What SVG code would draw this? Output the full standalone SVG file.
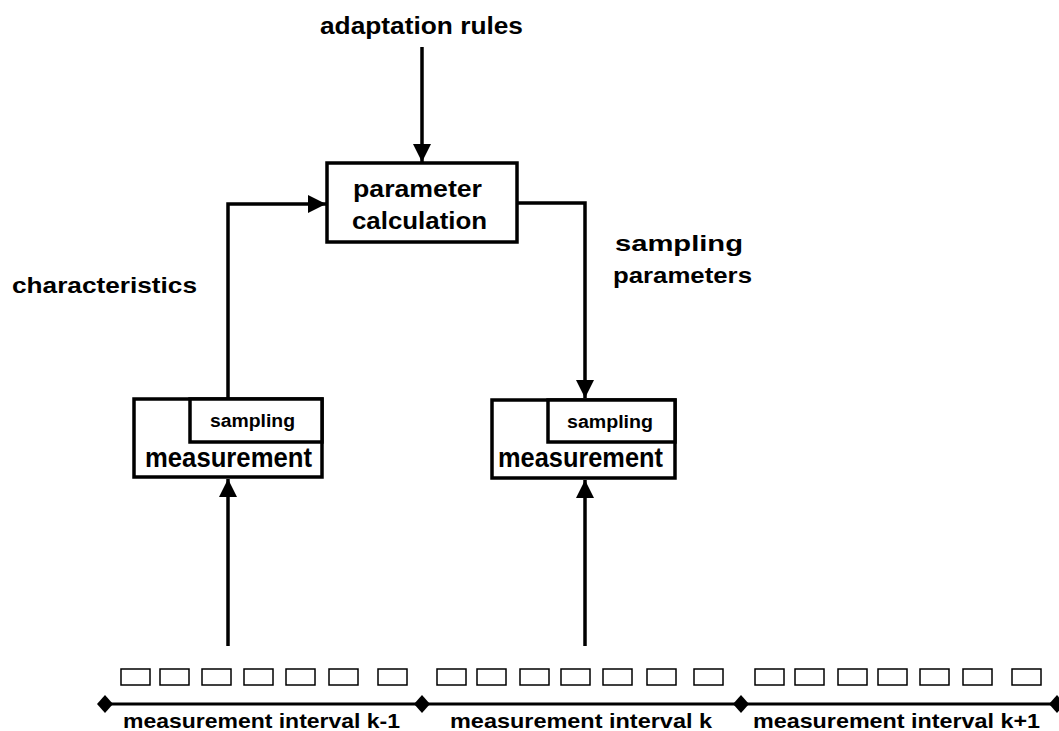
<svg xmlns="http://www.w3.org/2000/svg" width="1059" height="731" viewBox="0 0 1059 731">
  <style>
    text { font-family: "Liberation Sans", Arial, sans-serif; font-weight: bold; fill: #000; }
    .box { fill: #fff; stroke: #000; stroke-width: 3.5; }
    .wire { fill: none; stroke: #000; stroke-width: 3.5; }
    .slot { fill: #fff; stroke: #000; stroke-width: 1.5; }
    .axis { fill: none; stroke: #000; stroke-width: 3; }
  </style>
  <defs>
    <marker id="arrow" markerUnits="userSpaceOnUse" markerWidth="20" markerHeight="20" viewBox="0 0 20 20" refX="18" refY="10" orient="auto">
      <path d="M0,1 L18,10 L0,19 Z" fill="#000"/>
    </marker>
    <path id="diamond" d="M0,-9 L8,0 L0,9 L-8,0 Z" fill="#000"/>
    <rect id="slot" class="slot" width="29" height="16"/>
  </defs>
  <rect width="1059" height="731" fill="#fff"/>

  <!-- connectors -->
  <g id="connectors">
    <line class="wire" x1="422" y1="47" x2="422" y2="162" marker-end="url(#arrow)"/>
    <polyline class="wire" points="228,398 228,204 326,204" marker-end="url(#arrow)"/>
    <polyline class="wire" points="517,203 585,203 585,398" marker-end="url(#arrow)"/>
    <line class="wire" x1="228" y1="646" x2="228" y2="479" marker-end="url(#arrow)"/>
    <line class="wire" x1="585" y1="646" x2="585" y2="480" marker-end="url(#arrow)"/>
  </g>

  <!-- labels on the connectors -->
  <g id="labels" lengthAdjust="spacingAndGlyphs">
    <text x="320" y="34" font-size="23" textLength="203" lengthAdjust="spacingAndGlyphs">adaptation rules</text>
    <text x="12" y="293" font-size="22" textLength="185" lengthAdjust="spacingAndGlyphs">characteristics</text>
    <text x="615" y="251" font-size="22" textLength="128" lengthAdjust="spacingAndGlyphs">sampling</text>
    <text x="613" y="283" font-size="22" textLength="139" lengthAdjust="spacingAndGlyphs">parameters</text>
  </g>

  <!-- parameter calculation -->
  <g id="param-calc">
    <rect class="box" x="327" y="163" width="190" height="79"/>
    <text x="353" y="197" font-size="23" textLength="129" lengthAdjust="spacingAndGlyphs">parameter</text>
    <text x="352" y="229" font-size="23" textLength="135" lengthAdjust="spacingAndGlyphs">calculation</text>
  </g>

  <!-- measurement in interval k-1 -->
  <g id="measure-left">
    <rect class="box" x="134" y="399" width="188" height="78"/>
    <rect class="box" x="190" y="399" width="132" height="43"/>
    <text x="210" y="427" font-size="18" textLength="85" lengthAdjust="spacingAndGlyphs">sampling</text>
    <text x="145" y="467" font-size="28" textLength="167" lengthAdjust="spacingAndGlyphs">measurement</text>
  </g>

  <!-- measurement in interval k -->
  <g id="measure-right">
    <rect class="box" x="492" y="400" width="183" height="78"/>
    <rect class="box" x="548" y="400" width="127" height="42"/>
    <text x="567" y="428" font-size="18" textLength="86" lengthAdjust="spacingAndGlyphs">sampling</text>
    <text x="498" y="467" font-size="28" textLength="165" lengthAdjust="spacingAndGlyphs">measurement</text>
  </g>

  <!-- packet slots -->
  <g id="slots">
    <use href="#slot" x="121" y="669"/>
    <use href="#slot" x="160" y="669"/>
    <use href="#slot" x="202" y="669"/>
    <use href="#slot" x="244" y="669"/>
    <use href="#slot" x="286" y="669"/>
    <use href="#slot" x="329" y="669"/>
    <use href="#slot" x="378" y="669"/>

    <use href="#slot" x="437" y="669"/>
    <use href="#slot" x="477" y="669"/>
    <use href="#slot" x="520" y="669"/>
    <use href="#slot" x="561" y="669"/>
    <use href="#slot" x="603" y="669"/>
    <use href="#slot" x="647" y="669"/>
    <use href="#slot" x="694" y="669"/>

    <use href="#slot" x="755" y="669"/>
    <use href="#slot" x="795" y="669"/>
    <use href="#slot" x="838" y="669"/>
    <use href="#slot" x="878" y="669"/>
    <use href="#slot" x="920" y="669"/>
    <use href="#slot" x="963" y="669"/>
    <use href="#slot" x="1012" y="669"/>
  </g>

  <!-- time axis -->
  <g id="axis">
    <line class="axis" x1="105" y1="704" x2="1057" y2="704"/>
    <use href="#diamond" x="105" y="704"/>
    <use href="#diamond" x="422" y="704"/>
    <use href="#diamond" x="741" y="704"/>
    <use href="#diamond" x="1057" y="704"/>
    <text x="123" y="728" font-size="21" textLength="277" lengthAdjust="spacingAndGlyphs">measurement interval k-1</text>
    <text x="450" y="728" font-size="21" textLength="262" lengthAdjust="spacingAndGlyphs">measurement interval k</text>
    <text x="753" y="728" font-size="21" textLength="287" lengthAdjust="spacingAndGlyphs">measurement interval k+1</text>
  </g>
</svg>
